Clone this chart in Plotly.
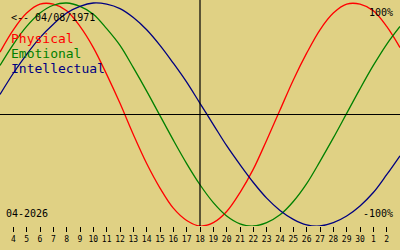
import plotly.graph_objects as go

# Days of the displayed window (April 2026, continuing into May)
days = list(range(3, 34))
physical = [56, 76, 91, 99, 99, 93, 79, 60, 36, 10, -18, -44, -66, -84, -95, -100,
            -97, -87, -70, -49, -23, 4, 31, 55, 76, 91, 99, 99, 93, 79, 60]
emotional = [44, 63, 79, 91, 98, 100, 97, 90, 77, 62, 42, 21, -1, -23, -44, -63,
             -79, -91, -98, -100, -97, -90, -78, -62, -42, -21, 1, 23, 44, 63, 79]
intellectual = [18, 37, 54, 69, 81, 91, 97, 100, 99, 95, 87, 76, 62, 46, 29, 10,
                -9, -28, -45, -61, -75, -86, -94, -99, -100, -97, -91, -82, -70, -54, -37]
tick_days = list(range(4, 33))
tick_labels = [str(d) for d in range(4, 31)] + ["1", "2"]
today = 18
birth_label = "<-- 04/08/1971"
month_label = "04-2026"
series_names = ["Physical", "Emotional", "Intellectual"]
series_colors = ["#ff0000", "#008000", "#000080"]

BG = "#e0d184"
MONO = "DejaVu Sans Mono"

fig = go.Figure()
for name, vals, col in zip(series_names, [physical, emotional, intellectual], series_colors):
    fig.add_trace(go.Scatter(x=days, y=vals, mode="lines", name=name,
                             line=dict(color=col, width=1.3, shape="spline"),
                             hoverinfo="skip"))

fig.add_shape(type="line", xref="x", yref="paper", x0=today, x1=today, y0=0, y1=1,
              line=dict(color="black", width=1.2))
fig.add_shape(type="line", xref="paper", yref="y", x0=0, x1=1, y0=0, y1=0,
              line=dict(color="black", width=1.2))

H = 226.0
def py(px):
    return 1 - px / H

ann = []
ann.append(dict(text=birth_label, x=10/400, y=py(17), xanchor="left", yanchor="middle",
                font=dict(family=MONO, size=10, color="black")))
for i, (name, col) in enumerate(zip(series_names, series_colors)):
    ann.append(dict(text=name, x=10/400, y=py(38 + 15*i), xanchor="left", yanchor="middle",
                    font=dict(family=MONO, size=13, color=col)))
ann.append(dict(text="100%", x=394/400, y=py(13), xanchor="right", yanchor="middle",
                font=dict(family=MONO, size=10, color="black")))
ann.append(dict(text="-100%", x=394/400, y=py(213), xanchor="right", yanchor="middle",
                font=dict(family=MONO, size=10, color="black")))
ann.append(dict(text=month_label, x=5/400, y=py(213), xanchor="left", yanchor="middle",
                font=dict(family=MONO, size=10, color="black")))
for a in ann:
    a.update(xref="paper", yref="paper", showarrow=False, borderpad=0)

fig.update_layout(
    width=400, height=250,
    margin=dict(l=0, r=0, t=0, b=24),
    paper_bgcolor=BG, plot_bgcolor=BG,
    showlegend=False,
    annotations=ann,
    xaxis=dict(range=[3, 33], tickmode="array", tickvals=tick_days, ticktext=tick_labels,
               ticks="outside", ticklen=5, tickcolor="black", tickwidth=1,
               showgrid=False, zeroline=False, showline=False,
               tickfont=dict(family=MONO, size=8, color="black")),
    yaxis=dict(range=[-100, 102.7], showticklabels=False, showgrid=False,
               zeroline=False, showline=False, ticks=""),
)

fig.write_html("out.html")
